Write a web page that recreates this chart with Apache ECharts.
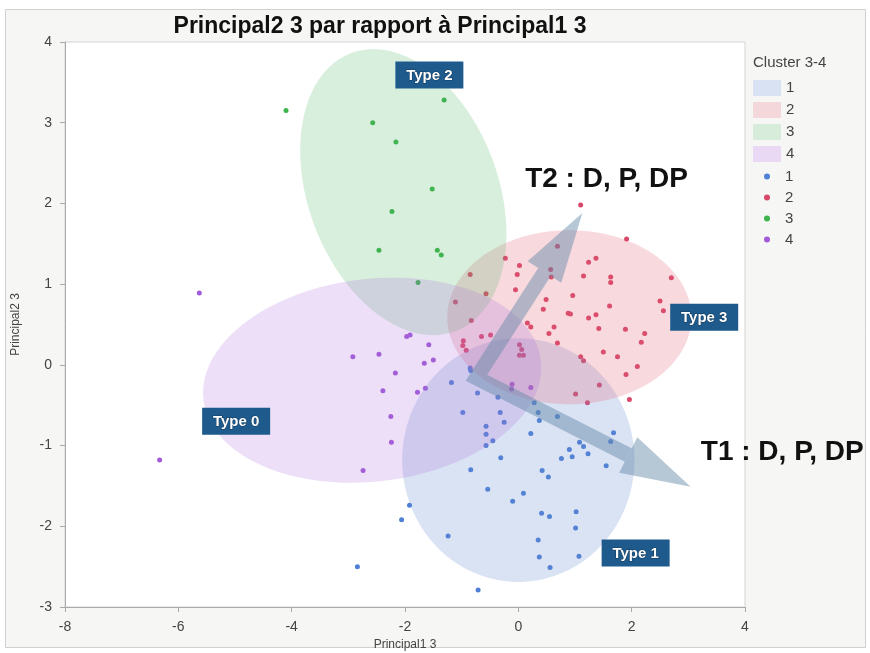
<!DOCTYPE html>
<html>
<head>
<meta charset="utf-8">
<script src="https://cdn.jsdelivr.net/npm/echarts@6/dist/echarts.min.js"></script>
<style>
  html, body { margin: 0; padding: 0; background: #fff; }
  #chart { width: 870px; height: 653px; }
</style>
</head>
<body>
<div id="chart"></div>
<script>
  // clusters and their colours
  const clusterNames = ['1', '2', '3', '4'];
  const pointColors = ['#4f80d6', '#d9476a', '#3db44e', '#a35ad8'];
  const ellipseFills = ['rgba(100,140,210,0.24)', 'rgba(225,95,115,0.24)', 'rgba(80,180,100,0.22)', 'rgba(170,110,220,0.22)'];
  const swatchColors = ['#d9e2f3', '#f4d7da', '#d7ecda', '#ead9f5'];

  // points, [Principal1 3, Principal2 3]
  const cluster1 = [
    [-0.85, -0.04], [-0.84, -0.07], [-1.18, -0.22], [-0.72, -0.35], [-0.36, -0.40], [-0.98, -0.59],
    [-0.32, -0.59], [-0.25, -0.71], [-0.57, -0.76], [-0.57, -0.86], [-0.45, -0.94], [-0.57, -1.00],
    [0.28, -0.47], [0.35, -0.59], [0.37, -0.69], [0.69, -0.64], [0.22, -0.85], [1.68, -0.84],
    [1.63, -0.95], [1.08, -0.96], [1.15, -1.01], [1.23, -1.10], [0.90, -1.05], [0.95, -1.14],
    [0.76, -1.16], [1.55, -1.25], [-0.31, -1.15], [-0.84, -1.30], [0.42, -1.31], [0.53, -1.39],
    [-0.54, -1.54], [0.09, -1.59], [-0.10, -1.69], [-1.92, -1.74], [-2.06, -1.92], [0.41, -1.84],
    [0.55, -1.88], [1.02, -1.82], [1.01, -2.02], [-1.24, -2.12], [0.35, -2.17], [0.37, -2.38],
    [0.56, -2.51], [1.07, -2.37], [-0.71, -2.79], [-2.84, -2.50]
  ];
  const cluster2 = [
    [1.10, 1.98], [0.69, 1.47], [1.91, 1.56], [-0.23, 1.32], [0.02, 1.23], [-0.02, 1.12],
    [-0.85, 1.12], [0.57, 1.18], [0.58, 1.09], [1.24, 1.27], [1.37, 1.32], [1.15, 1.10],
    [1.63, 1.09], [1.63, 1.02], [2.70, 1.08], [-0.05, 0.93], [-0.57, 0.88], [-1.11, 0.78],
    [0.96, 0.86], [0.49, 0.81], [0.44, 0.69], [1.61, 0.73], [2.50, 0.79], [2.56, 0.67],
    [0.88, 0.64], [0.92, 0.63], [1.24, 0.58], [1.37, 0.62], [-0.83, 0.55], [0.16, 0.52],
    [0.22, 0.47], [0.63, 0.47], [0.54, 0.39], [1.42, 0.45], [1.89, 0.44], [2.23, 0.39],
    [2.17, 0.28], [-0.65, 0.35], [-0.49, 0.37], [-0.97, 0.30], [-0.98, 0.24], [-0.92, 0.18],
    [0.69, 0.27], [1.50, 0.16], [1.75, 0.10], [1.10, 0.10], [1.15, 0.05], [2.10, -0.02],
    [1.90, -0.12], [1.43, -0.25], [1.01, -0.36], [1.22, -0.47], [1.96, -0.43], [0.02, 0.25],
    [0.06, 0.19], [0.02, 0.12], [0.09, 0.12]
  ];
  const cluster3 = [
    [-4.10, 3.15], [-2.57, 3.00], [-2.16, 2.76], [-2.23, 1.90], [-1.31, 3.28],
    [-1.52, 2.18], [-2.46, 1.42], [-1.43, 1.42], [-1.36, 1.36], [-1.77, 1.02]
  ];
  const cluster4 = [
    [-5.63, 0.89], [-6.33, -1.18], [-2.92, 0.10], [-2.46, 0.13], [-1.97, 0.35], [-1.91, 0.37],
    [-1.58, 0.25], [-1.66, 0.02], [-1.50, 0.06], [-2.17, -0.10], [-2.39, -0.32], [-1.78, -0.34],
    [-1.64, -0.29], [-2.25, -0.64], [-2.24, -0.96], [-2.74, -1.31], [-0.11, -0.24], [-0.12, -0.30],
    [0.22, -0.28]
  ];
  const clusterPoints = [cluster1, cluster2, cluster3, cluster4];

  // density ellipses: centre and two semi-axis vectors (data units)
  const ellipseCenters = [[0.0, -1.18], [0.90, 0.59], [-2.03, 2.14], [-2.58, -0.19]];
  const ellipseAxisU = [[2.05, 0], [2.155, 0], [-0.919, 1.724], [2.977, 0.245]];
  const ellipseAxisV = [[0, 1.51], [0, 1.078], [1.571, 0.411], [-0.210, 1.247]];

  // annotations
  const typeLabels = ['Type 2', 'Type 3', 'Type 0', 'Type 1'];
  const typeLabelPos = [[-1.57, 3.59], [3.28, 0.59], [-4.98, -0.70], [2.07, -2.33]];
  const trendLabels = ['T2 : D, P, DP', 'T1 : D, P, DP'];
  const trendLabelPos = [[0.12, 2.30], [3.22, -1.08]];
  const arrowCorner = [-0.74, -0.16];
  const arrowTips = [[1.13, 1.88], [3.04, -1.51]];

  const chart = echarts.init(document.getElementById('chart'));
  const font = 'Liberation Sans, Arial, sans-serif';

  const ellipseSeries = clusterNames.map((name, k) => ({
    type: 'custom',
    name: 'zone ' + name,
    z: 3,
    data: [ellipseCenters[k]],
    itemStyle: { color: swatchColors[k] },
    renderItem: (params, api) => {
      const cx = api.value(0), cy = api.value(1);
      const u = ellipseAxisU[k], v = ellipseAxisV[k];
      const points = [];
      for (let i = 0; i < 90; i++) {
        const t = i / 90 * Math.PI * 2;
        points.push(api.coord([
          cx + Math.cos(t) * u[0] + Math.sin(t) * v[0],
          cy + Math.cos(t) * u[1] + Math.sin(t) * v[1],
        ]));
      }
      return { type: 'polygon', shape: { points }, style: { fill: ellipseFills[k] } };
    },
  }));

  const pointSeries = clusterNames.map((name, k) => ({
    type: 'scatter',
    name: 'pts ' + name,
    z: 2,
    symbolSize: 5,
    data: clusterPoints[k],
    itemStyle: { color: pointColors[k], opacity: 1 },
  }));

  const arrowSeries = {
    type: 'custom',
    z: 5,
    data: [arrowCorner],
    renderItem: (params, api) => {
      const corner = api.coord([api.value(0), api.value(1)]);
      const headLen = 70, headHalf = 20, color = 'rgba(100,135,168,0.47)';
      const bases = [], heads = [];
      arrowTips.forEach((tp) => {
        const tip = api.coord(tp);
        const dx = tip[0] - corner[0], dy = tip[1] - corner[1];
        const len = Math.sqrt(dx * dx + dy * dy);
        const ux = dx / len, uy = dy / len;
        const base = [tip[0] - ux * headLen, tip[1] - uy * headLen];
        bases.push(base);
        heads.push({
          type: 'polygon',
          shape: { points: [tip, [base[0] - uy * headHalf, base[1] + ux * headHalf], [base[0] + uy * headHalf, base[1] - ux * headHalf]] },
          style: { fill: color },
        });
      });
      return {
        type: 'group',
        children: [
          {
            type: 'polyline',
            shape: { points: [bases[0], corner, bases[1]] },
            style: { stroke: color, lineWidth: 15, lineJoin: 'miter', lineCap: 'butt', fill: null },
          },
          ...heads,
        ],
      };
    },
  };

  const typeSeries = {
    type: 'custom',
    z: 6,
    data: typeLabelPos,
    renderItem: (params, api) => {
      const p = api.coord([api.value(0), api.value(1)]);
      return {
        type: 'group',
        children: [
          { type: 'rect', shape: { x: p[0] - 34, y: p[1] - 13.5, width: 68, height: 27 }, style: { fill: '#1f5a8c' } },
          {
            type: 'text', x: p[0], y: p[1] + 1,
            style: {
              text: typeLabels[params.dataIndex], fill: '#fff', align: 'center', verticalAlign: 'middle',
              font: 'bold 15px ' + font, stroke: '#123a5c', lineWidth: 1,
            },
          },
        ],
      };
    },
  };

  const trendSeries = {
    type: 'custom',
    z: 6,
    data: trendLabelPos,
    renderItem: (params, api) => {
      const p = api.coord([api.value(0), api.value(1)]);
      return {
        type: 'text', x: p[0], y: p[1],
        style: {
          text: trendLabels[params.dataIndex], fill: '#111', align: 'left', verticalAlign: 'middle',
          font: 'bold 28px ' + font,
        },
      };
    },
  };

  chart.setOption({
    animation: false,
    backgroundColor: '#fff',
    graphic: [{
      type: 'rect', z: -10, silent: true,
      shape: { x: 5.5, y: 9.5, width: 860, height: 638 },
      style: { fill: '#f6f6f4', stroke: '#d0d0d0', lineWidth: 1 },
    }],
    title: [
      {
        text: 'Principal2 3 par rapport à Principal1 3',
        left: 375, top: 10, textAlign: 'center',
        textStyle: { fontFamily: font, fontWeight: 'bold', fontSize: 23, color: '#111' },
      },
      {
        text: 'Cluster 3-4',
        left: 748, top: 50,
        textStyle: { fontFamily: font, fontWeight: 'normal', fontSize: 15, color: '#444' },
      },
    ],
    legend: [
      {
        orient: 'vertical', left: 748, top: 75, selectedMode: false,
        icon: 'rect', itemWidth: 28, itemHeight: 16, itemGap: 6,
        textStyle: { fontFamily: font, fontSize: 15, color: '#444' },
        formatter: (name) => name.split(' ')[1],
        data: clusterNames.map((n, k) => ({ name: 'zone ' + n, itemStyle: { color: swatchColors[k] } })),
      },
      {
        orient: 'vertical', left: 759, top: 164, selectedMode: false,
        icon: 'circle', itemWidth: 6, itemHeight: 6, itemGap: 6,
        textStyle: { fontFamily: font, fontSize: 15, color: '#444', padding: [0, 0, 0, 10] },
        formatter: (name) => name.split(' ')[1],
        data: clusterNames.map((n, k) => ({ name: 'pts ' + n, itemStyle: { color: pointColors[k] } })),
      },
    ],
    grid: {
      left: 65, right: 125, top: 42, bottom: 46, outerBoundsMode: 'none',
      show: true, backgroundColor: '#fff', borderColor: '#d4d4d4', borderWidth: 1,
    },
    xAxis: {
      type: 'value', min: -8, max: 4, interval: 2,
      name: 'Principal1 3', nameLocation: 'middle', nameGap: 28,
      nameTextStyle: { fontFamily: font, fontSize: 12, color: '#444' },
      axisLine: { show: true, onZero: false, lineStyle: { color: '#aaa' } },
      axisTick: { show: true, length: 5, lineStyle: { color: '#aaa' } },
      axisLabel: { fontFamily: font, fontSize: 14, color: '#444', margin: 13 },
      splitLine: { show: false },
    },
    yAxis: {
      type: 'value', min: -3, max: 4, interval: 1,
      name: 'Principal2 3', nameLocation: 'middle', nameGap: 43,
      nameTextStyle: { fontFamily: font, fontSize: 12, color: '#444' },
      axisLine: { show: true, onZero: false, lineStyle: { color: '#aaa' } },
      axisTick: { show: true, length: 5, lineStyle: { color: '#aaa' } },
      axisLabel: { fontFamily: font, fontSize: 14, color: '#444', margin: 13 },
      splitLine: { show: false },
    },
    series: [...pointSeries, ...ellipseSeries, arrowSeries, typeSeries, trendSeries],
  });
</script>
</body>
</html>
